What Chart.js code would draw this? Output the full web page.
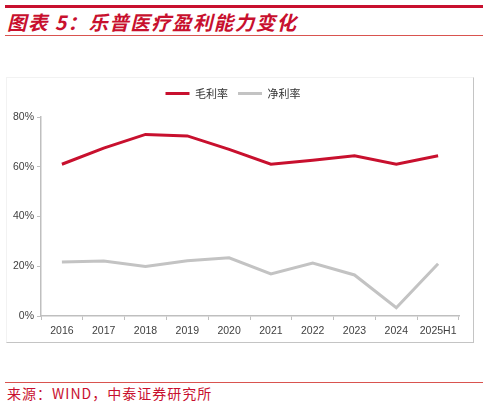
<!DOCTYPE html>
<html>
<head>
<meta charset="utf-8">
<script src="https://cdn.jsdelivr.net/npm/chart.js@4/dist/chart.umd.min.js"></script>
<style>
  body{margin:0;width:488px;height:406px;background:#fff;position:relative;overflow:hidden;font-family:"Noto Sans CJK SC",sans-serif;}
  .topline{position:absolute;left:5px;top:5px;width:478px;height:3px;background:#c8102e;}
  .title{position:absolute;left:7px;top:7px;font-size:19.5px;font-weight:bold;font-style:italic;color:#c8102e;letter-spacing:1.4px;white-space:nowrap;}
  .subline{position:absolute;left:5px;top:35px;width:478px;height:1px;background:#d9534f;}
  .box{position:absolute;left:6px;top:77px;width:466px;height:264px;border-top:1px solid #f2f2f2;border-left:1px solid #f2f2f2;border-right:1px solid #c4c4c4;border-bottom:1px solid #c4c4c4;}
  .box canvas{display:block;}
  .botline{position:absolute;left:5px;top:382px;width:478px;height:1px;background:#d9534f;}
  .src{position:absolute;left:7px;top:383px;font-size:14px;color:#c8102e;letter-spacing:1px;white-space:nowrap;}
</style>
</head>
<body>
<div class="topline"></div>
<div class="title">图表 5：乐普医疗盈利能力变化</div>
<div class="subline"></div>
<div class="box"><canvas id="myChart" width="466" height="264"></canvas></div>
<div class="botline"></div>
<div class="src">来源：WIND，中泰证券研究所</div>
<script>
   //ラベル
   var labels=['2016','2017','2018','2019','2020','2021','2022','2023','2024','2025H1'];
   var gross_margin=[61.0,67.5,73.0,72.4,67.0,61.0,62.6,64.4,61.0,64.4];
   var net_margin=[21.7,22.1,19.9,22.2,23.4,16.9,21.3,16.5,3.3,21.0];
   var y_ticks=[0,20,40,60,80];

   var ctx = document.getElementById("myChart");
   var myChart = new Chart(ctx, {
		type: 'line',
		data : {
			labels: labels,
			datasets: [
				{
					label: '毛利率',
					data: gross_margin,
					borderColor: "#c8102e",
					backgroundColor: "#c8102e",
					borderWidth: 3,
					pointRadius: 0,
					tension: 0
				},
				{
					label: '净利率',
					data: net_margin,
					borderColor: "#c3c3c3",
					backgroundColor: "#c3c3c3",
					borderWidth: 3,
					pointRadius: 0,
					tension: 0
				}
			]
		},
		options: {
			responsive: false,
			animation: false,
			devicePixelRatio: 1,
			layout: { padding: { top: 0, right: 14, left: 0, bottom: 0 } },
			plugins: {
				legend: {
					display: true,
					position: 'top',
					labels: {
						usePointStyle: true,
						pointStyle: 'line',
						pointStyleWidth: 24,
						boxHeight: 10,
						padding: 10,
						color: '#333',
						font: { family: '"Noto Sans CJK SC"', size: 11 }
					}
				},
				tooltip: { enabled: false }
			},
			scales: {
				x: {
					offset: true,
					grid: { display: true, drawOnChartArea: false, offset: true, tickLength: 4, color: '#bfbfbf', lineWidth: 1 },
					border: { display: true, color: '#bfbfbf', width: 1.5 },
					ticks: { color: '#404040', font: { family: 'Liberation Sans', size: 10.5 }, padding: 5, maxRotation: 0, autoSkip: false },
					afterFit: function(scale){ scale.height = 26; }
				},
				y: {
					min: 0,
					max: 80,
					afterBuildTicks: function(scale){ scale.ticks = y_ticks.map(function(v){ return {value: v}; }); },
					grid: { display: true, drawOnChartArea: false, tickLength: 4, color: '#bfbfbf', lineWidth: 1 },
					border: { display: true, color: '#bfbfbf', width: 1.5 },
					ticks: { color: '#404040', font: { family: 'Liberation Sans', size: 10.5 }, padding: 3, callback: function(v){ return v + '%'; } },
					afterFit: function(scale){ scale.width = 34; }
				}
			}
		}
   });

   // 凡例の高さを固定してプロット上端を合わせる
   var legendFit = myChart.legend.fit;
   myChart.legend.fit = function(){
       legendFit.call(this);
       this.height = 39;
   };
   myChart.update();
   console.log(JSON.stringify(myChart.chartArea));
</script>
</body>
</html>
